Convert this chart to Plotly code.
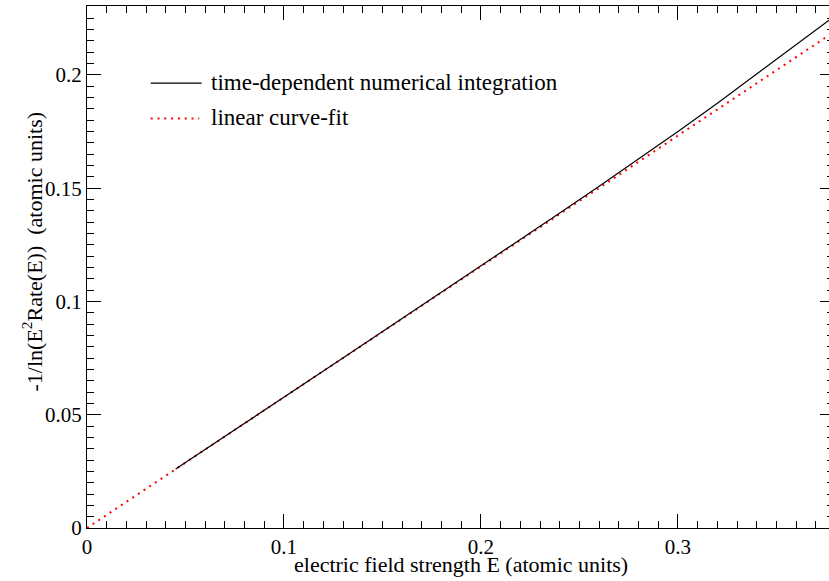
import plotly.graph_objects as go

# Data
td_E = [0.045, 0.06, 0.08, 0.10, 0.12, 0.14, 0.16, 0.18, 0.20, 0.22, 0.24, 0.26,
        0.28, 0.30, 0.32, 0.34, 0.36, 0.38]
td_val = [0.0260, 0.0346, 0.0462, 0.0578, 0.0693, 0.0809, 0.0925, 0.1040, 0.1156,
          0.1272, 0.1390, 0.1508, 0.1628, 0.1750, 0.1875, 0.2003, 0.2133, 0.2263]
fit_E = [0.0, 0.38]
fit_val = [0.0, 0.2194]

x_ticks = [0, 0.1, 0.2, 0.3]
x_ticktext = ["0", "0.1", "0.2", "0.3"]
y_ticks = [0, 0.05, 0.1, 0.15, 0.2]
y_ticktext = ["0", "0.05", "0.1", "0.15", "0.2"]

FONT = "Liberation Serif"

fig = go.Figure()
fig.add_trace(go.Scatter(x=fit_E, y=fit_val, mode="lines", name="linear curve-fit",
                         line=dict(color="#ff0000", width=2, dash="2px,4.8px"),
                         showlegend=False))
fig.add_trace(go.Scatter(x=td_E, y=td_val, mode="lines",
                         name="time-dependent numerical integration",
                         line=dict(color="black", width=1.2), showlegend=False))

axis_common = dict(showline=True, linecolor="black", linewidth=1.3, mirror="allticks",
                   ticks="inside", ticklen=14, tickwidth=1.3, tickcolor="black",
                   showgrid=False, zeroline=False,
                   tickfont=dict(family=FONT, size=21, color="black"))

fig.update_xaxes(range=[0, 0.3792], tickvals=x_ticks, ticktext=x_ticktext,
                 minor=dict(ticks="inside", ticklen=7, tickwidth=1.2, tickcolor="black",
                            tickmode="linear", tick0=0, dtick=0.01, showgrid=False),
                 **axis_common)
fig.update_yaxes(range=[0, 0.2304], tickvals=y_ticks, ticktext=y_ticktext,
                 minor=dict(ticks="inside", ticklen=7, tickwidth=1.2, tickcolor="black",
                            tickmode="linear", tick0=0, dtick=0.005, showgrid=False),
                 **axis_common)

annots = [
    dict(text="electric field strength E (atomic units)", x=0.501, y=-0.0695,
         xref="paper", yref="paper", xanchor="center", yanchor="middle",
         showarrow=False, font=dict(family=FONT, size=22, color="black")),
    dict(text="-1/ln(E<sup>2</sup>Rate(E))\u00a0\u00a0(atomic units)", x=-0.0723, y=0.5297,
         xref="paper", yref="paper", xanchor="center", yanchor="middle", textangle=-90,
         showarrow=False, font=dict(family=FONT, size=22, color="black")),
    dict(text="time-dependent numerical integration", x=0.1637, y=0.8534,
         xref="paper", yref="paper", xanchor="left", yanchor="middle",
         showarrow=False, font=dict(family=FONT, size=23, color="black")),
    dict(text="linear curve-fit", x=0.1637, y=0.7858,
         xref="paper", yref="paper", xanchor="left", yanchor="middle",
         showarrow=False, font=dict(family=FONT, size=23, color="black")),
]
shapes = [
    dict(type="line", xref="paper", yref="paper", x0=0.0853, x1=0.1535, y0=0.8521, y1=0.8521,
         line=dict(color="black", width=1.2)),
    dict(type="line", xref="paper", yref="paper", x0=0.0853, x1=0.1503, y0=0.7845, y1=0.7845,
         line=dict(color="#ff0000", width=2, dash="2px,4.8px")),
]

fig.update_layout(width=836, height=581, margin=dict(l=87, r=2, t=6, b=53),
                  paper_bgcolor="white", plot_bgcolor="white",
                  annotations=annots, shapes=shapes,
                  font=dict(family=FONT, color="black"))

fig.write_html("out.html",
               config={"displayModeBar": False},
               post_script="document.body.style.margin='0';"
                           "document.body.style.overflow='hidden';"
                           "document.documentElement.style.overflow='hidden';")
